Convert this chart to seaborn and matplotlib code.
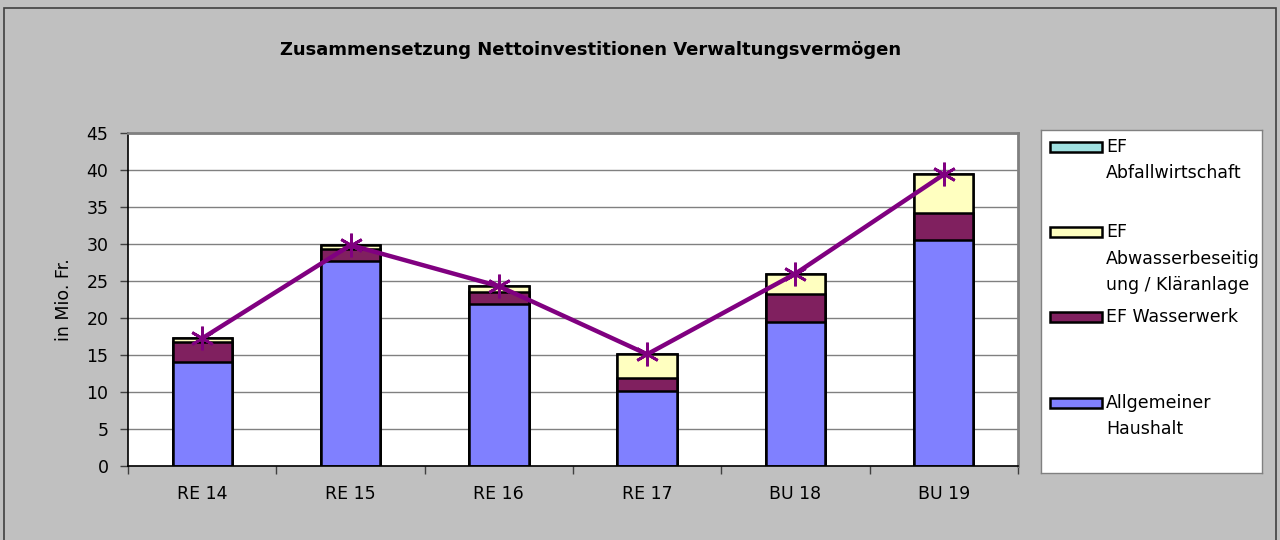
import numpy as np
import matplotlib
matplotlib.use("Agg")
import matplotlib.pyplot as plt
from matplotlib.patches import Rectangle
import seaborn as sns

categories = ["RE 14", "RE 15", "RE 16", "RE 17", "BU 18", "BU 19"]
allgemeiner_haushalt = [14.1, 27.7, 21.85, 10.2, 19.5, 30.5]
ef_wasserwerk = [2.6, 1.6, 1.7, 1.65, 3.8, 3.7]
ef_abwasser = [0.55, 0.55, 0.75, 3.25, 2.7, 5.2]
ef_abfall = [0.0, 0.0, 0.0, 0.0, 0.0, 0.0]
totals = [17.25, 29.85, 24.3, 15.1, 26.0, 39.4]
yticks = [0, 5, 10, 15, 20, 25, 30, 35, 40, 45]

series_labels = ["EF\nAbfallwirtschaft", "EF\nAbwasserbeseitig\nung / Kläranlage",
                 "EF Wasserwerk", "Allgemeiner\nHaushalt"]
colors = ["#A0E0E0", "#FFFFC0", "#80205F", "#8080FF"]

sns.set_theme(style="white")
plt.rcParams["font.family"] = ["DejaVu Sans"]
plt.rcParams["text.color"] = "black"
plt.rcParams["axes.labelcolor"] = "black"
plt.rcParams["xtick.color"] = "black"
plt.rcParams["ytick.color"] = "black"

fig = plt.figure(figsize=(12.8, 5.4), dpi=100)
fig.patch.set_facecolor("#C0C0C0")
fig.patches.append(Rectangle((4 / 1280, -0.01), 1272 / 1280, 1 - 8 / 540 + 0.01,
                             transform=fig.transFigure, fill=False,
                             edgecolor="#404040", linewidth=1.2))

ax = fig.add_axes([128 / 1280, 1 - 466 / 540, 890 / 1280, 333 / 540])
ax.set_facecolor("white")

# stacked bars: draw cumulative sums from top down
c1 = np.array(allgemeiner_haushalt)
c2 = c1 + np.array(ef_wasserwerk)
c3 = c2 + np.array(ef_abwasser)
c4 = c3 + np.array(ef_abfall)
for vals, col in zip([c4, c3, c2, c1], colors):
    sns.barplot(x=categories, y=vals, color=col, saturation=1, width=0.4,
                edgecolor="black", linewidth=1.8, ax=ax, zorder=2)

sns.pointplot(x=categories, y=totals, color="#800080", marker=(6, 2, 0),
              markersize=17, markeredgewidth=2, linewidth=3.2, errorbar=None,
              ax=ax, zorder=3)

ax.set_ylim(0, 45)
ax.set_xlim(-0.5, 5.5)
ax.set_yticks(yticks)
ax.set_yticklabels([str(t) for t in yticks], fontsize=12.5)
ax.set_xticks(range(len(categories)))
ax.set_xticklabels(categories, fontsize=12.5)
ax.set_xticks(np.arange(-0.5, 6.0, 1.0), minor=True)
ax.tick_params(axis="x", which="major", length=0, pad=14)
ax.tick_params(axis="x", which="minor", length=6, width=1, color="#404040", direction="out", bottom=True)
ax.tick_params(axis="y", length=6, width=1, color="#404040", direction="out", left=True, pad=8)
ax.yaxis.grid(True, color="#808080", linewidth=1)
ax.set_axisbelow(True)
ax.set_ylabel("in Mio. Fr.", fontsize=12.5, labelpad=10)
ax.set_xlabel("")
for s in ["top", "right"]:
    ax.spines[s].set_color("#808080")
    ax.spines[s].set_linewidth(2)
for s in ["left", "bottom"]:
    ax.spines[s].set_color("black")
    ax.spines[s].set_linewidth(1.2)

fig.text(591 / 1280, 1 - 50 / 540, "Zusammensetzung Nettoinvestitionen Verwaltungsvermögen",
         ha="center", va="center", fontsize=13, fontweight="bold")

# legend box
lax = fig.add_axes([1041 / 1280, 1 - 473 / 540, 221 / 1280, 343 / 540])
lax.set_xlim(0, 221)
lax.set_ylim(343, 0)
lax.set_facecolor("white")
lax.set_xticks([])
lax.set_yticks([])
for s in lax.spines.values():
    s.set_color("#808080")
    s.set_linewidth(1)
ycent = [17, 102, 187, 273]
for y, lab, col in zip(ycent, series_labels, colors):
    lax.add_patch(Rectangle((9, y - 5), 52, 10, facecolor=col, edgecolor="black", linewidth=1.8))
    lines = lab.split("\n")
    for i, ln in enumerate(lines):
        lax.text(65, y + i * 26.5, ln, ha="left", va="center", fontsize=12.5)

fig.savefig("out.png", dpi=100, facecolor=fig.get_facecolor())
